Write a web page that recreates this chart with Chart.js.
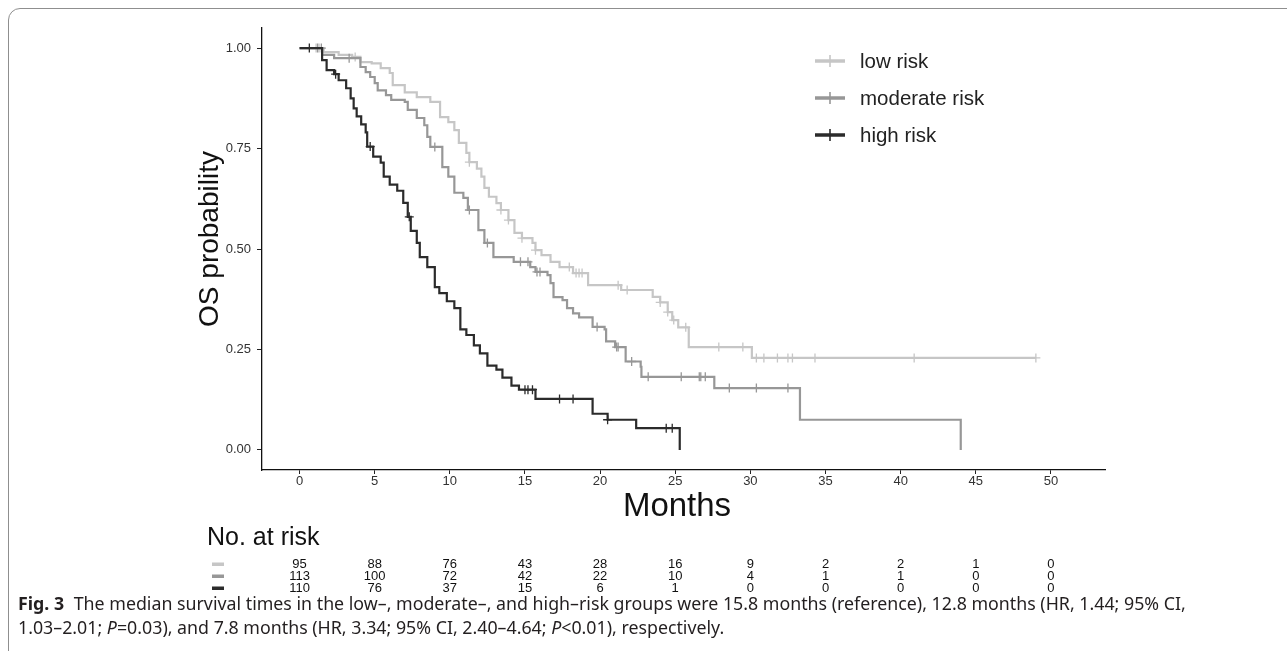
<!DOCTYPE html>
<html>
<head>
<meta charset="utf-8">
<script src="https://cdn.jsdelivr.net/npm/chart.js@4.4.0/dist/chart.umd.min.js"></script>
<style>
html, body { margin: 0; padding: 0; background: #fff; }
body { width: 1287px; height: 651px; position: relative; overflow: hidden; }
#frame { position: absolute; left: 8px; top: 8px; width: 1300px; height: 670px; border: 1px solid #8f8f8f; border-radius: 12px; box-sizing: border-box; }
#plot { position: absolute; left: 0; top: 0; }
#caption { position: absolute; left: 18px; top: 591px; font-family: "Noto Sans", sans-serif; font-size: 17.8px; line-height: 24px; color: #231f20; white-space: nowrap; }
#caption b { margin-right: 5px; }
</style>
</head>
<body>
<div id="frame"></div>
<canvas id="plot" width="1287" height="651"></canvas>
<div id="caption"><b>Fig. 3</b> The median survival times in the low–, moderate–, and high–risk groups were 15.8 months (reference), 12.8 months (HR, 1.44; 95% CI,<br>1.03–2.01; <i>P</i>=0.03), and 7.8 months (HR, 3.34; 95% CI, 2.40–4.64; <i>P</i>&lt;0.01), respectively.</div>
<script>
// Kaplan-Meier steps (months, survival after the step)
const lowTimes = [0, 1.6, 2.6, 3.5, 4.05, 4.8, 5.4, 6.0, 6.2, 7.0, 7.8, 8.7, 9.35, 9.9, 10.3, 10.6, 11.1, 11.3, 11.8, 12.1, 12.3, 12.6, 13.1, 13.4, 13.9, 14.3, 14.8, 15.5, 15.7, 16.1, 16.7, 17.3, 18.2, 19.2, 21.4, 23.5, 24.0, 24.5, 24.8, 25.2, 25.9, 30.1, 49.0];
const lowSurv = [1, 0.99, 0.983, 0.978, 0.965, 0.962, 0.95, 0.938, 0.908, 0.89, 0.878, 0.866, 0.828, 0.816, 0.796, 0.764, 0.739, 0.716, 0.70, 0.68, 0.652, 0.63, 0.614, 0.597, 0.572, 0.54, 0.527, 0.515, 0.497, 0.485, 0.468, 0.455, 0.44, 0.41, 0.398, 0.381, 0.367, 0.343, 0.323, 0.305, 0.256, 0.229, 0.229];
const lowCensor = [1.1, 1.3, 3.7, 11.3, 13.4, 13.9, 14.8, 15.7, 17.95, 18.4, 18.6, 18.8, 21.2, 21.8, 24.0, 24.5, 24.9, 25.7, 27.9, 29.5, 30.4, 30.9, 31.8, 32.5, 32.8, 34.3, 40.9, 49.0];

const modTimes = [0, 1.5, 2.3, 4.05, 4.4, 4.7, 5.0, 5.2, 5.75, 6.1, 7.0, 7.2, 7.8, 8.3, 8.5, 8.7, 9.5, 9.9, 10.3, 10.9, 11.2, 11.9, 12.3, 12.9, 14.25, 15.35, 15.7, 16.5, 16.7, 16.9, 17.5, 17.8, 18.2, 18.6, 19.5, 20.3, 20.4, 21.0, 21.7, 22.7, 22.75, 27.6, 33.3, 44.0];
const modSurv = [1, 0.983, 0.975, 0.953, 0.94, 0.928, 0.913, 0.895, 0.883, 0.871, 0.866, 0.846, 0.826, 0.808, 0.779, 0.754, 0.704, 0.68, 0.64, 0.627, 0.597, 0.547, 0.515, 0.48, 0.468, 0.455, 0.443, 0.435, 0.415, 0.38, 0.373, 0.353, 0.34, 0.33, 0.306, 0.30, 0.27, 0.256, 0.22, 0.207, 0.182, 0.154, 0.075, 0];
const modCensor = [1.2, 1.45, 3.3, 9.0, 11.3, 12.5, 14.7, 15.2, 15.8, 16.0, 19.8, 21.1, 21.2, 22.1, 23.2, 25.4, 26.6, 26.7, 27.0, 28.6, 30.4, 32.5];

const highTimes = [0, 1.5, 1.8, 2.3, 2.6, 3.1, 3.4, 3.6, 3.8, 4.1, 4.4, 4.5, 4.9, 5.4, 5.6, 6.0, 6.5, 6.9, 7.2, 7.4, 7.8, 8.0, 8.5, 9.0, 9.3, 9.8, 10.3, 10.7, 11.1, 11.6, 12.0, 12.5, 13.1, 13.5, 14.1, 14.6, 15.7, 19.5, 20.5, 22.4, 25.3];
const highSurv = [1, 0.97, 0.945, 0.935, 0.92, 0.90, 0.875, 0.85, 0.83, 0.81, 0.79, 0.755, 0.73, 0.715, 0.68, 0.66, 0.645, 0.615, 0.58, 0.545, 0.515, 0.48, 0.455, 0.405, 0.39, 0.37, 0.353, 0.30, 0.286, 0.26, 0.24, 0.21, 0.20, 0.18, 0.16, 0.15, 0.127, 0.09, 0.075, 0.054, 0];
const highCensor = [0.65, 2.4, 4.7, 7.3, 15.0, 15.2, 15.5, 17.3, 18.2, 20.5, 24.4, 24.8];

// number at risk table
const riskTimes = [0, 5, 10, 15, 20, 25, 30, 35, 40, 45, 50];
const lowRisk = [95, 88, 76, 43, 28, 16, 9, 2, 2, 1, 0];
const modRisk = [113, 100, 72, 42, 22, 10, 4, 1, 1, 0, 0];
const highRisk = [110, 76, 37, 15, 6, 1, 0, 0, 0, 0, 0];

const xTicks = [0, 5, 10, 15, 20, 25, 30, 35, 40, 45, 50];
const yTicks = [0, 0.25, 0.5, 0.75, 1];
const groupLabels = ['low risk', 'moderate risk', 'high risk'];

const lowColor = '#c6c6c6';
const modColor = '#979797';
const highColor = '#2b2b2b';
const font = '"Liberation Sans", Arial, sans-serif';

function steps(times, surv) {
    return times.map((t, i) => ({ x: t, y: surv[i] }));
}

// survival level of the curve at time t (for placing censor ticks)
function survAt(times, surv, t) {
    let s = surv[0];
    for (let i = 0; i < times.length; i++) {
        if (times[i] <= t) s = surv[i];
    }
    return s;
}

function censors(cens, times, surv) {
    return cens.map(t => ({ x: t, y: survAt(times, surv, t) }));
}

function curve(label, times, surv, color, order) {
    return {
        type: 'line', label: label, data: steps(times, surv),
        borderColor: color, borderWidth: 2.2, stepped: 'before',
        pointRadius: 0, fill: false, order: order
    };
}

function marks(cens, times, surv, color, order) {
    return {
        type: 'scatter', data: censors(cens, times, surv),
        borderColor: color, backgroundColor: color, pointStyle: 'cross',
        pointRadius: 4.5, borderWidth: 1.3, order: order
    };
}

// legend, axis titles and risk table drawn next to the plot
const extras = {
    id: 'extras',
    afterDraw(chart) {
        const ctx = chart.ctx;
        const xs = chart.scales.x;
        ctx.save();
        ctx.fillStyle = '#111';

        ctx.textAlign = 'center';
        ctx.textBaseline = 'middle';
        ctx.font = '33px ' + font;
        ctx.fillText('Months', 677, 507);

        ctx.save();
        ctx.translate(210, 239);
        ctx.rotate(-Math.PI / 2);
        ctx.font = '28px ' + font;
        ctx.fillText('OS probability', 0, 0);
        ctx.restore();

        // legend
        const colors = [lowColor, modColor, highColor];
        const legY = [61, 98, 135];
        ctx.textAlign = 'left';
        ctx.font = '20.5px ' + font;
        groupLabels.forEach((lab, i) => {
            ctx.strokeStyle = colors[i];
            ctx.lineWidth = 3.5;
            ctx.beginPath();
            ctx.moveTo(815, legY[i]);
            ctx.lineTo(845, legY[i]);
            ctx.stroke();
            ctx.lineWidth = 1.6;
            ctx.beginPath();
            ctx.moveTo(830, legY[i] - 6);
            ctx.lineTo(830, legY[i] + 6);
            ctx.stroke();
            ctx.fillStyle = '#222';
            ctx.fillText(lab, 860, legY[i] + 1);
        });

        // number at risk
        ctx.fillStyle = '#111';
        ctx.font = '25px ' + font;
        ctx.fillText('No. at risk', 207, 538);

        const rows = [lowRisk, modRisk, highRisk];
        const rowY = [564, 576, 588];
        ctx.textAlign = 'center';
        ctx.font = '13px "Liberation Sans Narrow", "Liberation Sans", Arial, sans-serif';
        rows.forEach((row, r) => {
            ctx.fillStyle = colors[r];
            ctx.fillRect(212, rowY[r] - 1.5, 12, 3.5);
            ctx.fillStyle = '#111';
            row.forEach((n, i) => {
                ctx.fillText(String(n), xs.getPixelForValue(riskTimes[i]), rowY[r]);
            });
        });
        ctx.restore();
    }
};

const ctx = document.getElementById('plot').getContext('2d');
new Chart(ctx, {
    data: {
        datasets: [
            curve('high risk', highTimes, highSurv, highColor, 0),
            marks(highCensor, highTimes, highSurv, highColor, 1),
            curve('moderate risk', modTimes, modSurv, modColor, 2),
            marks(modCensor, modTimes, modSurv, modColor, 3),
            curve('low risk', lowTimes, lowSurv, lowColor, 4),
            marks(lowCensor, lowTimes, lowSurv, lowColor, 5)
        ]
    },
    options: {
        responsive: false,
        animation: false,
        layout: { padding: { left: 202, top: 28, right: 182, bottom: 141 } },
        plugins: { legend: { display: false }, tooltip: { enabled: false } },
        scales: {
            x: {
                type: 'linear', min: -2.5, max: 53.6,
                afterFit: s => { s.height = 40; },
                afterBuildTicks: s => { s.ticks = xTicks.map(v => ({ value: v })); },
                grid: { drawOnChartArea: false, drawTicks: true, tickLength: 4, color: '#222' },
                border: { display: true, color: '#111', width: 1.3 },
                ticks: { color: '#333', padding: 0, font: { family: font, size: 13 }, maxRotation: 0 }
            },
            y: {
                type: 'linear', min: -0.05, max: 1.05,
                afterFit: s => { s.width = 60; },
                afterBuildTicks: s => { s.ticks = yTicks.map(v => ({ value: v })); },
                grid: { drawOnChartArea: false, drawTicks: true, tickLength: 5, color: '#222' },
                border: { display: true, color: '#111', width: 1.3 },
                ticks: { color: '#333', padding: 6, font: { family: font, size: 13 }, callback: v => v.toFixed(2) }
            }
        }
    },
    plugins: [extras]
});
</script>
</body>
</html>
